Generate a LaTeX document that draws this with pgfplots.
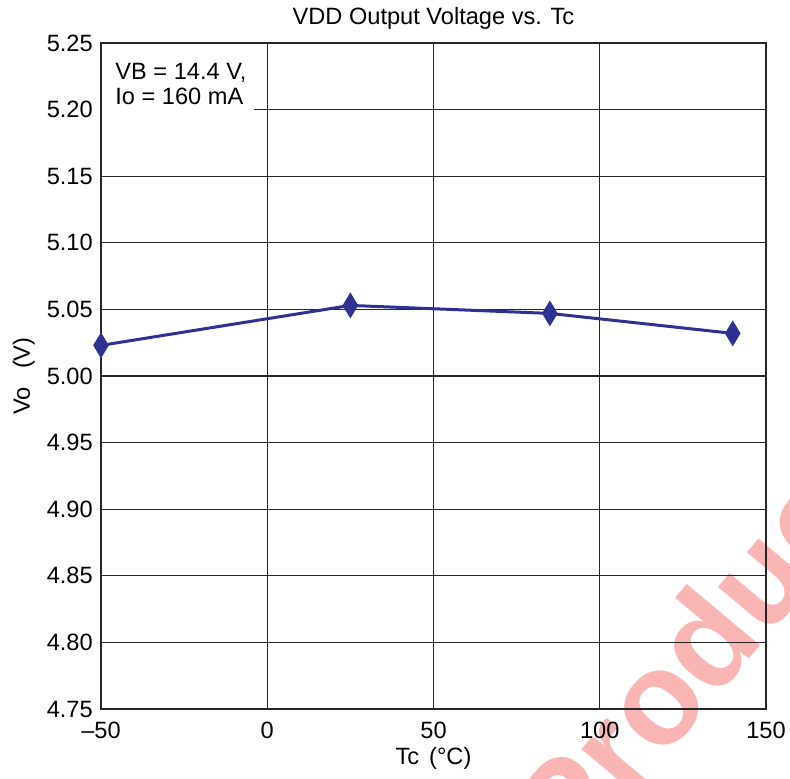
\documentclass[border=0pt]{standalone}
\usepackage{pgfplots}
\pgfplotsset{compat=1.18}
\usepackage{fontspec}
\setmainfont{Liberation Sans}
\definecolor{tiblue}{RGB}{46,49,146}
\definecolor{wmred}{RGB}{238,40,40}
\begin{document}
\fontsize{11.8}{14}\selectfont
\begin{tikzpicture}
\useasboundingbox (-50.5pt,-34.5pt) rectangle (344.5pt,354.5pt);
% watermark, behind the grid
\node[overlay, anchor=base west, rotate=50, text=wmred, opacity=0.35,
  font=\fontsize{66}{68}\selectfont\bfseries, inner sep=0pt] at (236pt,-80pt) {Product Folder};
\begin{axis}[
  scale only axis, width=332.5pt, height=333pt,
  at={(0,0)}, anchor=south west,
  xmin=-50, xmax=150, ymin=4.75, ymax=5.25,
  xtick={-50,0,50,100,150},
  xticklabels={–50,0,50,100,150},
  ytick={4.75,4.80,...,5.25},
  yticklabel style={/pgf/number format/.cd, fixed, fixed zerofill, precision=2},
  /pgf/number format/assume math mode=true,
  major tick length=0pt,
  grid=major,
  grid style={black!85, line width=0.6pt},
  axis line style={black!85, line width=0.7pt},
  title={VDD Output Voltage vs. Tc},
  xlabel={Tc\hspace{5pt}(°C)},
  ylabel={Vo\hspace{9pt}(V)},
  title style={yshift=-3.5pt},
  xticklabel style={yshift=-2.5pt},
  xlabel style={yshift=4pt},
  ylabel style={yshift=-2pt},
  tick label style={font=\fontsize{11.8}{14}\selectfont},
  label style={font=\fontsize{11.8}{14}\selectfont},
]
\addplot[color=tiblue, line width=1.5pt, mark=diamond*,
  mark size=6pt, mark options={xscale=0.8, line width=0.5pt, fill=tiblue}]
  coordinates {
  (-50, 5.023)
  (25, 5.053)
  (85, 5.047)
  (140, 5.032)
};
\end{axis}
\node[anchor=north west, fill=white, inner sep=0pt, minimum width=76pt,
  minimum height=33pt] at (0.5pt,332.5pt) {};
\node[anchor=north west, inner sep=0pt, align=left] at (7pt,323pt)
  {VB = 14.4 V,\\[-1.5pt]Io = 160 mA};
\end{tikzpicture}
\end{document}
